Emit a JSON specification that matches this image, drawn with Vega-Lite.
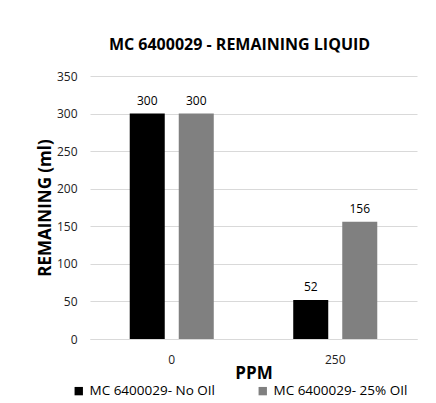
{
  "$schema": "https://vega.github.io/schema/vega-lite/v6.json",
  "autosize": {"type": "none"},
  "width": 327,
  "height": 263,
  "padding": {"left": 90, "top": 76, "right": 19, "bottom": 64},
  "background": "white",
  "title": {
    "text": "MC 6400029 - REMAINING LIQUID",
    "font": "Open Sans",
    "fontSize": 16,
    "fontWeight": "bold",
    "color": "#000000",
    "anchor": "middle",
    "dx": -14,
    "offset": 17
  },
  "data": {
    "values": [
      {"ppm": "0", "series": "MC 6400029- No OIl", "value": 300},
      {"ppm": "0", "series": "MC 6400029- 25% OIl", "value": 300},
      {"ppm": "250", "series": "MC 6400029- No OIl", "value": 52},
      {"ppm": "250", "series": "MC 6400029- 25% OIl", "value": 156}
    ]
  },
  "encoding": {
    "x": {
      "field": "ppm",
      "type": "nominal",
      "sort": ["0", "250"],
      "scale": {"paddingInner": 0.486, "paddingOuter": 0.243},
      "axis": {
        "title": "PPM",
        "labelAngle": 0,
        "ticks": false,
        "domain": true,
        "domainColor": "#d9d9d9",
        "labelPadding": 15,
        "labelFont": "Open Sans",
        "labelFontSize": 12,
        "labelColor": "#222222",
        "titleFont": "Open Sans",
        "titleFontSize": 17,
        "titleFontWeight": "bold",
        "titleColor": "#000000",
        "titleX": 163.5,
        "titleY": 39,
        "titleBaseline": "alphabetic"
      }
    },
    "xOffset": {
      "field": "series",
      "type": "nominal",
      "sort": ["MC 6400029- No OIl", "MC 6400029- 25% OIl"],
      "scale": {"paddingInner": 0.2857, "paddingOuter": 0}
    },
    "y": {
      "field": "value",
      "type": "quantitative",
      "scale": {"domain": [0, 350], "nice": false},
      "axis": {
        "title": "REMAINING (ml)",
        "values": [0, 50, 100, 150, 200, 250, 300, 350],
        "domain": false,
        "ticks": false,
        "grid": true,
        "gridColor": "#d9d9d9",
        "labelPadding": 13,
        "labelFont": "Open Sans",
        "labelFontSize": 12,
        "labelColor": "#222222",
        "titleFont": "Open Sans",
        "titleFontSize": 17,
        "titleFontWeight": "bold",
        "titleColor": "#000000",
        "titleAngle": -90,
        "titleX": -40,
        "titleY": 131.5,
        "titleAlign": "center",
        "titleBaseline": "alphabetic"
      }
    }
  },
  "layer": [
    {
      "mark": {"type": "bar"},
      "encoding": {
        "color": {
          "field": "series",
          "type": "nominal",
          "scale": {
            "domain": ["MC 6400029- No OIl", "MC 6400029- 25% OIl"],
            "range": ["#000000", "#808080"]
          },
          "legend": {
            "title": null,
            "orient": "none",
            "direction": "horizontal",
            "legendX": -18,
            "legendY": 308,
            "symbolType": "square",
            "symbolSize": 70,
            "symbolStrokeWidth": 0,
            "labelFont": "Open Sans",
            "labelFontSize": 13.5,
            "labelColor": "#000000",
            "labelOffset": 4,
            "columnPadding": 40
          }
        }
      }
    },
    {
      "mark": {
        "type": "text",
        "baseline": "alphabetic",
        "dy": -9,
        "font": "Open Sans",
        "fontSize": 12,
        "color": "#000000"
      },
      "encoding": {
        "text": {"field": "value", "type": "quantitative"}
      }
    }
  ],
  "config": {
    "view": {"stroke": null}
  }
}
